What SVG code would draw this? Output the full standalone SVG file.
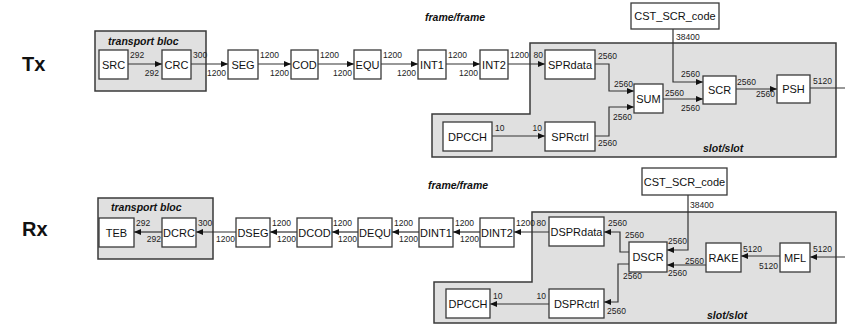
<svg xmlns="http://www.w3.org/2000/svg" width="845" height="325" viewBox="0 0 845 325">
  <defs>
    <marker id="ah" markerUnits="userSpaceOnUse" markerWidth="8" markerHeight="6" refX="7" refY="3" orient="auto">
      <path d="M0,0 L7,3 L0,6 Z" fill="#111"/>
    </marker>
    <style>
      .zone { fill: #e0e0e0; stroke: #3a3a3a; stroke-width: 1.5; }
      .blk rect { fill: #ffffff; stroke: #3a3a3a; stroke-width: 1.3; }
      .blk text { font-family: "Liberation Sans", Arial, sans-serif; font-size: 11px; fill: #111; text-anchor: middle; }
      .wire { fill: none; stroke: #333; stroke-width: 1.2; marker-end: url(#ah); }
      .wire.open { marker-end: none; }
      .num { font-family: "Liberation Sans", Arial, sans-serif; font-size: 8.5px; fill: #222; }
      .num.r { text-anchor: end; }
      .cap { font-family: "Liberation Sans", Arial, sans-serif; font-size: 10.5px; font-weight: bold; font-style: italic; fill: #111; }
      .side { font-family: "Liberation Sans", Arial, sans-serif; font-size: 20px; font-weight: bold; fill: #111; }
    </style>
  </defs>

  <!-- ================= Tx chain ================= -->
  <text class="side" x="22" y="71">Tx</text>

  <g id="tx-zones">
    <rect class="zone" x="95" y="31" width="111" height="60"/>
    <path class="zone" d="M530,43 H836 V157 H432 V114 H530 Z"/>
    <text class="cap" x="108" y="45">transport bloc</text>
    <text class="cap" x="425" y="21">frame/frame</text>
    <text class="cap" x="703" y="152">slot/slot</text>
  </g>

  <g id="tx-connectors">
    <path class="wire" d="M128,64 H162"/>
    <path class="wire" d="M191,64 H228"/>
    <path class="wire" d="M258,64 H291"/>
    <path class="wire" d="M318,64 H354"/>
    <path class="wire" d="M381,64 H418"/>
    <path class="wire" d="M446,64 H480"/>
    <path class="wire" d="M508,64 H545"/>
    <path class="wire" d="M492,136 H545"/>
    <path class="wire" d="M595,64 H609 V91 H634"/>
    <path class="wire" d="M595,136 H609 V107 H634"/>
    <path class="wire" d="M663,99 H703"/>
    <path class="wire" d="M673,29 V82 H703"/>
    <path class="wire" d="M736,89 H777"/>
    <path class="wire open" d="M810,88 H845"/>

    <text class="num" x="130" y="58">292</text>
    <text class="num r" x="159" y="76">292</text>
    <text class="num" x="193" y="58">300</text>
    <text class="num r" x="226" y="76">1200</text>
    <text class="num" x="260" y="58">1200</text>
    <text class="num r" x="289" y="76">1200</text>
    <text class="num" x="320" y="58">1200</text>
    <text class="num r" x="352" y="76">1200</text>
    <text class="num" x="383" y="58">1200</text>
    <text class="num r" x="416" y="76">1200</text>
    <text class="num" x="448" y="58">1200</text>
    <text class="num r" x="478" y="76">1200</text>
    <text class="num" x="510" y="58">1200</text>
    <text class="num r" x="543" y="58">80</text>
    <text class="num" x="495" y="131">10</text>
    <text class="num r" x="542" y="131">10</text>
    <text class="num" x="598" y="59">2560</text>
    <text class="num r" x="633" y="87">2560</text>
    <text class="num" x="598" y="146">2560</text>
    <text class="num r" x="632" y="120">2560</text>
    <text class="num" x="665" y="96">2560</text>
    <text class="num r" x="700" y="111">2560</text>
    <text class="num" x="676" y="40">38400</text>
    <text class="num r" x="700" y="77">2560</text>
    <text class="num" x="737" y="85">2560</text>
    <text class="num r" x="775" y="97">2560</text>
    <text class="num" x="813" y="84">5120</text>
  </g>

  <g id="tx-src" class="blk"><rect x="99" y="50" width="29" height="29"/><text x="113.5" y="68.5">SRC</text></g>
  <g id="tx-crc" class="blk"><rect x="162" y="50" width="29" height="29"/><text x="176.5" y="68.5">CRC</text></g>
  <g id="tx-seg" class="blk"><rect x="228" y="50" width="30" height="29"/><text x="243" y="68.5">SEG</text></g>
  <g id="tx-cod" class="blk"><rect x="291" y="50" width="27" height="29"/><text x="304.5" y="68.5">COD</text></g>
  <g id="tx-equ" class="blk"><rect x="354" y="50" width="27" height="29"/><text x="367.5" y="68.5">EQU</text></g>
  <g id="tx-int1" class="blk"><rect x="418" y="50" width="28" height="29"/><text x="432" y="68.5">INT1</text></g>
  <g id="tx-int2" class="blk"><rect x="480" y="50" width="28" height="29"/><text x="494" y="68.5">INT2</text></g>
  <g id="tx-sprdata" class="blk"><rect x="545" y="50" width="50" height="29"/><text x="570" y="68.5">SPRdata</text></g>
  <g id="tx-dpcch" class="blk"><rect x="443" y="122" width="49" height="29"/><text x="467.5" y="140.5">DPCCH</text></g>
  <g id="tx-sprctrl" class="blk"><rect x="545" y="122" width="50" height="29"/><text x="570" y="140.5">SPRctrl</text></g>
  <g id="tx-sum" class="blk"><rect x="634" y="84" width="29" height="29"/><text x="648.5" y="102.5">SUM</text></g>
  <g id="tx-scr" class="blk"><rect x="703" y="76" width="33" height="28"/><text x="719.5" y="94">SCR</text></g>
  <g id="tx-psh" class="blk"><rect x="777" y="75" width="33" height="28"/><text x="793.5" y="93">PSH</text></g>
  <g id="tx-code" class="blk"><rect x="631" y="3" width="88" height="26"/><text x="675" y="20">CST_SCR_code</text></g>

  <!-- ================= Rx chain ================= -->
  <text class="side" x="22" y="236">Rx</text>

  <g id="rx-zones">
    <rect class="zone" x="98" y="198" width="115" height="61"/>
    <path class="zone" d="M532,212 H836 V323 H434 V282 H532 Z"/>
    <text class="cap" x="111" y="211">transport bloc</text>
    <text class="cap" x="428" y="189">frame/frame</text>
    <text class="cap" x="707" y="319">slot/slot</text>
  </g>

  <g id="rx-connectors">
    <path class="wire" d="M162,232 H134"/>
    <path class="wire" d="M236,232 H196"/>
    <path class="wire" d="M297,232 H270"/>
    <path class="wire" d="M358,232 H332"/>
    <path class="wire" d="M419,232 H392"/>
    <path class="wire" d="M480,232 H453"/>
    <path class="wire" d="M549,232 H514"/>
    <path class="wire" d="M549,304 H490"/>
    <path class="wire" d="M629,252 H620 V232 H604"/>
    <path class="wire" d="M629,264 H618 V302 H604"/>
    <path class="wire" d="M688,195 V250 H667"/>
    <path class="wire" d="M706,265 H667"/>
    <path class="wire" d="M780,256 H741"/>
    <path class="wire" d="M845,257 H810"/>

    <text class="num" x="136" y="226">292</text>
    <text class="num r" x="161" y="242">292</text>
    <text class="num" x="198" y="226">300</text>
    <text class="num r" x="235" y="242">1200</text>
    <text class="num" x="272" y="226">1200</text>
    <text class="num r" x="296" y="242">1200</text>
    <text class="num" x="333" y="226">1200</text>
    <text class="num r" x="357" y="242">1200</text>
    <text class="num" x="394" y="226">1200</text>
    <text class="num r" x="418" y="242">1200</text>
    <text class="num" x="455" y="226">1200</text>
    <text class="num r" x="479" y="242">1200</text>
    <text class="num" x="516" y="226">1200</text>
    <text class="num r" x="546" y="226">80</text>
    <text class="num" x="493" y="299">10</text>
    <text class="num r" x="546" y="299">10</text>
    <text class="num" x="608" y="226">2560</text>
    <text class="num" x="625" y="238">2560</text>
    <text class="num" x="623" y="279">2560</text>
    <text class="num" x="607" y="314">2560</text>
    <text class="num" x="690" y="208">38400</text>
    <text class="num" x="668" y="244">2560</text>
    <text class="num r" x="704" y="264">2560</text>
    <text class="num" x="668" y="276">2560</text>
    <text class="num" x="743" y="252">5120</text>
    <text class="num r" x="778" y="269">5120</text>
    <text class="num" x="813" y="252">5120</text>
  </g>

  <g id="rx-teb" class="blk"><rect x="99" y="218" width="35" height="29"/><text x="116.5" y="236.5">TEB</text></g>
  <g id="rx-dcrc" class="blk"><rect x="162" y="218" width="34" height="29"/><text x="179" y="236.5">DCRC</text></g>
  <g id="rx-dseg" class="blk"><rect x="236" y="218" width="34" height="29"/><text x="253" y="236.5">DSEG</text></g>
  <g id="rx-dcod" class="blk"><rect x="297" y="218" width="35" height="29"/><text x="314.5" y="236.5">DCOD</text></g>
  <g id="rx-dequ" class="blk"><rect x="358" y="218" width="34" height="29"/><text x="375" y="236.5">DEQU</text></g>
  <g id="rx-dint1" class="blk"><rect x="419" y="218" width="34" height="29"/><text x="436" y="236.5">DINT1</text></g>
  <g id="rx-dint2" class="blk"><rect x="480" y="218" width="34" height="29"/><text x="497" y="236.5">DINT2</text></g>
  <g id="rx-dsprdata" class="blk"><rect x="549" y="217" width="55" height="29"/><text x="576.5" y="235.5">DSPRdata</text></g>
  <g id="rx-dpcch" class="blk"><rect x="446" y="289" width="44" height="29"/><text x="468" y="307.5">DPCCH</text></g>
  <g id="rx-dsprctrl" class="blk"><rect x="549" y="289" width="55" height="29"/><text x="576.5" y="307.5">DSPRctrl</text></g>
  <g id="rx-dscr" class="blk"><rect x="629" y="242" width="38" height="30"/><text x="648" y="261">DSCR</text></g>
  <g id="rx-rake" class="blk"><rect x="706" y="243" width="35" height="29"/><text x="723.5" y="261.5">RAKE</text></g>
  <g id="rx-mfl" class="blk"><rect x="780" y="243" width="30" height="29"/><text x="795" y="261.5">MFL</text></g>
  <g id="rx-code" class="blk"><rect x="642" y="168" width="85" height="27"/><text x="684.5" y="185.5">CST_SCR_code</text></g>
</svg>
